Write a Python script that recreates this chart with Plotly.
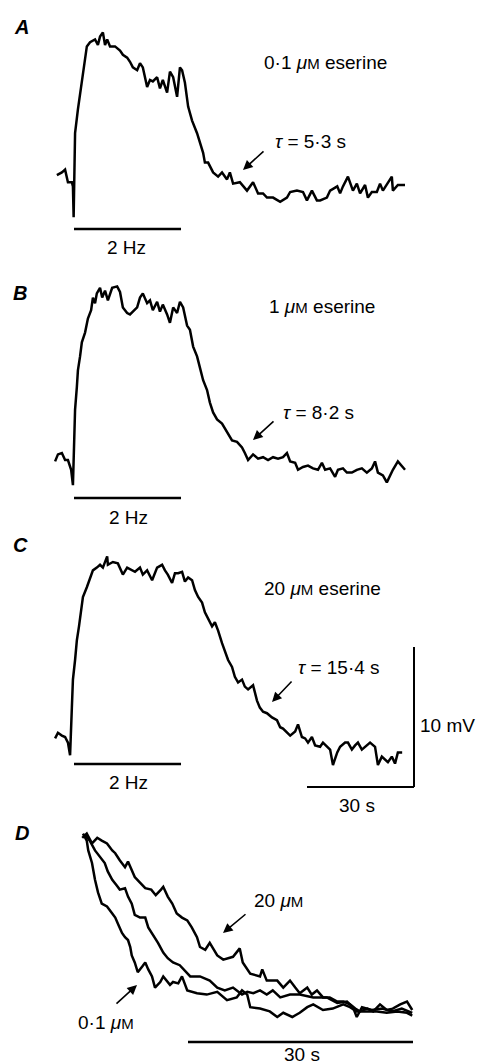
import plotly.graph_objects as go

# ---------------- data (time in s, membrane potential in mV relative to baseline) -------------
A_t = [-4.8, -3.4, -2.5, -2.0, -1.7, -0.6, -0.3, -0.1, 0.3, 1.1, 2.2, 3.1, 3.6, 4.5, 5.9, 6.7, 7.3, 8.1, 8.7, 9.3,
       10.1, 11.5, 12.9, 13.7, 14.9, 15.7, 16.5, 17.7, 18.5, 19.3, 20.5, 21.3, 22.1, 23.3, 24.1, 24.9, 26.1, 26.9,
       27.8, 28.9, 29.7, 30.3, 31.1, 32.0, 33.1, 34.5, 35.3, 36.2, 36.7, 37.6, 39.0, 40.4, 41.5, 42.9, 43.7, 44.6,
       46.5, 48.5, 50.2, 51.6, 53.0, 54.1, 55.8, 57.8, 59.7, 60.6, 62.5, 64.2, 65.3, 66.7, 68.1, 69.0, 70.9, 71.8,
       73.8, 74.6, 75.4, 76.8, 78.2, 79.3, 80.2, 81.6, 82.4, 83.5, 84.9, 85.8, 86.6, 88.0, 89.1, 89.4, 90.8, 92.8]
A_v = [0.2, 0.4, 0.6, 0.1, -0.3, -0.3, -0.6, -2.8, 3.2, 4.9, 6.8, 8.2, 9.4, 9.7, 9.9, 9.5, 10.1, 10.4, 9.5, 9.9,
       9.4, 9.4, 9.1, 8.8, 8.6, 8.3, 7.9, 7.7, 8.2, 7.9, 6.5, 7.0, 6.9, 7.2, 6.4, 7.0, 6.1, 7.6,
       7.2, 5.8, 7.9, 7.7, 6.8, 5.1, 4.1, 3.2, 2.5, 1.8, 1.1, 1.1, 0.4, 0.1, 0.4, -0.1, 0.4, -0.4,
       -0.3, -0.9, -0.3, -1.1, -1.1, -1.4, -1.4, -1.7, -1.4, -1.0, -0.9, -1.0, -1.6, -0.9, -1.6, -1.6, -1.4, -0.9,
       -0.6, -1.1, -0.6, 0.1, -0.9, -0.4, -1.1, -0.5, -1.4, -1.0, -1.0, -0.4, -0.9, -0.3, 0.1, -0.9, -0.5, -0.5]

B_t = [-5.3, -4.5, -3.4, -2.5, -1.7, -0.8, -0.3, 0.0, 0.3, 0.8, 1.1, 1.7, 2.2, 3.1, 3.9, 4.8, 5.3, 5.9, 6.4, 7.3,
       7.9, 8.7, 9.5, 10.7, 12.1, 12.9, 13.7, 14.9, 15.7, 16.5, 17.7, 18.5, 19.3, 20.5, 21.3, 22.1, 23.3, 24.1,
       24.9, 26.1, 26.9, 27.8, 28.9, 29.7, 30.6, 31.7, 32.5, 33.4, 34.5, 35.3, 36.2, 37.3, 38.1, 39.0, 40.1, 41.5,
       42.9, 44.3, 45.7, 47.1, 47.9, 48.8, 50.2, 51.6, 53.0, 54.4, 55.8, 57.2, 58.6, 59.7, 60.6, 62.0, 62.8, 64.2,
       65.6, 67.0, 68.4, 69.5, 70.4, 71.8, 73.2, 74.0, 75.4, 76.5, 77.9, 79.3, 80.7, 82.1, 83.5, 84.4, 85.2, 86.6,
       87.7, 88.6, 89.4, 90.8, 91.9, 92.8]
B_v = [-0.1, 0.4, 0.5, 0.0, 0.0, -0.7, -1.8, 0.9, 3.6, 5.2, 6.4, 7.4, 8.4, 9.1, 10.1, 10.7, 11.6, 11.2, 11.9, 12.3,
       11.6, 12.1, 11.4, 12.3, 12.4, 12.0, 10.9, 10.5, 10.4, 10.6, 10.9, 11.6, 11.9, 11.2, 11.4, 10.7, 11.3, 10.6,
       11.1, 10.4, 9.8, 10.9, 10.5, 11.3, 10.9, 9.6, 9.3, 8.1, 7.4, 6.6, 5.7, 5.0, 4.1, 3.4, 2.9, 2.6,
       2.0, 1.4, 1.3, 0.9, 0.5, 0.0, 0.4, 0.1, 0.2, 0.0, 0.2, 0.1, 0.2, 0.5, -0.1, -0.2, -0.7, -0.5,
       -0.4, -0.6, -0.7, -0.2, -0.7, -0.6, -1.2, -0.7, -0.6, -0.9, -0.9, -0.7, -0.6, -0.9, -0.6, -0.1, -0.9, -1.1,
       -1.6, -1.1, -0.7, -0.1, -0.4, -0.7]

C_t = [-5.3, -4.5, -3.4, -2.5, -1.7, -1.1, -0.6, -0.3, 0.3, 0.8, 1.4, 2.0, 2.5, 3.6, 4.5, 5.3, 6.4, 7.3, 8.1, 9.3,
       9.5, 10.9, 12.3, 13.7, 14.9, 16.3, 17.1, 18.5, 19.3, 20.5, 21.9, 23.3, 24.7, 25.5, 26.3, 27.5, 28.3, 29.2,
       30.3, 31.1, 32.0, 33.1, 33.9, 34.8, 35.9, 36.7, 37.6, 38.7, 39.5, 40.4, 41.5, 42.3, 43.2, 44.3, 45.1, 46.0,
       47.1, 47.9, 48.8, 50.2, 51.3, 52.1, 53.0, 54.1, 55.5, 56.9, 57.8, 58.6, 59.7, 60.6, 62.0, 62.8, 63.9, 64.8,
       65.6, 66.7, 67.6, 69.0, 69.8, 71.0, 71.8, 72.6, 73.8, 74.6, 76.0, 76.8, 77.9, 78.8, 79.6, 80.7, 81.6, 83.0,
       84.4, 85.2, 86.3, 87.2, 88.0, 89.1, 90.0, 90.8, 92.0]
C_v = [-0.1, 0.3, 0.1, 0.0, -0.4, -1.3, 2.1, 4.1, 5.5, 6.9, 7.9, 9.2, 10.0, 10.7, 11.4, 11.9, 12.1, 12.3, 12.1, 12.9,
       12.3, 12.5, 12.4, 11.6, 12.1, 11.9, 11.8, 12.1, 11.6, 11.9, 11.2, 12.1, 12.3, 11.9, 11.6, 11.0, 11.7, 11.7,
       11.8, 11.1, 11.4, 11.2, 10.5, 10.0, 9.6, 8.9, 8.4, 7.9, 8.2, 7.6, 6.7, 6.2, 5.5, 5.0, 4.3, 3.9,
       4.1, 3.6, 3.4, 3.7, 2.6, 2.1, 1.8, 1.7, 1.4, 1.2, 0.7, 0.6, 0.3, 0.1, 0.4, 0.9, 0.0, -0.1,
       -0.4, 0.0, -0.6, -0.7, -0.4, -0.7, -0.9, -2.0, -1.1, -0.7, -0.4, -0.4, -0.9, -0.6, -0.4, -0.9, -0.7, -0.4,
       -0.7, -2.0, -1.4, -1.6, -1.8, -1.4, -1.9, -1.1, -1.1]

# Panel D: decay phases superimposed (time from end of stimulation, amplitude scaled to same peak)
D01_t = [0.0, 0.5, 0.7, 1.2, 1.6, 2.0, 2.5, 3.2, 3.9, 4.3, 4.7, 5.2, 5.6, 6.0, 6.3, 6.5, 6.9, 7.3, 7.9, 8.3,
         8.7, 9.2, 9.6, 10.3, 10.7, 11.2, 11.6, 12.0, 12.7, 13.2, 13.9, 15.2, 16.5, 17.9, 19.2, 20.5, 21.2, 21.9,
         22.3, 23.6, 24.9, 25.9, 26.7, 27.9, 28.9, 29.9, 30.7, 32.0, 33.3, 34.7, 35.6, 36.5, 37.9, 39.2, 40.5,
         41.9, 43.2, 43.9]
D01_v = [12.6, 12.1, 11.4, 10.5, 9.3, 8.4, 7.6, 7.4, 6.9, 6.6, 6.1, 5.5, 5.2, 5.0, 4.5, 3.9, 3.4, 2.7, 3.1, 3.4,
         2.9, 2.4, 1.6, 2.0, 2.4, 2.1, 1.8, 2.0, 1.9, 2.4, 1.4, 1.2, 1.1, 1.3, 0.7, 0.9, 1.4, 1.1,
         0.2, 0.1, -0.1, -0.5, -0.2, -0.5, -0.2, 0.2, 0.4, 0.0, 0.1, 0.4, 0.2, -0.1, -0.1, -0.1, -0.2,
         -0.1, -0.2, -0.4]

D1_t = [0.3, 0.9, 1.6, 2.3, 2.9, 3.3, 3.9, 4.5, 4.9, 5.6, 6.0, 6.5, 6.9, 7.6, 8.3, 8.7, 9.2, 9.6, 10.0, 10.7,
        11.3, 12.0, 12.9, 14.3, 15.6, 16.9, 17.9, 18.9, 20.0, 21.2, 21.9, 22.7, 23.6, 24.5, 25.3, 26.3, 27.6,
        28.9, 30.7, 32.5, 33.9, 35.2, 36.0, 36.5, 37.2, 38.5, 39.9, 41.2, 42.5, 43.9]
D1_v = [12.5, 12.1, 11.4, 10.9, 10.5, 9.9, 9.3, 8.9, 8.6, 8.7, 8.1, 7.6, 6.8, 6.6, 6.6, 5.9, 5.5, 5.1, 4.8, 4.1,
        3.7, 3.4, 3.2, 2.4, 2.4, 2.1, 1.6, 1.4, 1.6, 1.1, 1.3, 1.2, 1.4, 1.1, 1.4, 0.9, 1.1,
        1.1, 0.9, 0.9, 0.5, 0.6, 0.2, -0.5, 0.2, 0.0, 0.1, -0.1, 0.1, -0.2]

D20_t = [-0.1, 0.5, 1.2, 1.9, 2.5, 3.2, 3.9, 4.3, 4.9, 5.6, 6.0, 6.5, 6.9, 7.6, 8.3, 9.1, 9.7, 10.4, 10.7, 11.3,
         11.9, 12.5, 13.2, 13.9, 14.5, 15.2, 15.6, 16.3, 16.9, 17.9, 18.7, 20.0, 20.9, 21.3, 22.3, 23.6, 23.9,
         24.5, 25.9, 26.7, 27.6, 28.3, 28.9, 29.9, 30.5, 31.2, 32.0, 32.9, 33.9, 34.7, 35.6, 36.3, 36.9, 37.9,
         38.7, 39.6, 40.5, 41.3, 42.3, 43.2, 43.9]
D20_v = [12.3, 12.6, 11.9, 12.3, 12.1, 11.9, 11.4, 11.2, 10.7, 10.2, 10.6, 10.0, 9.5, 9.1, 8.7, 8.6, 8.2, 8.6, 8.8, 8.1,
         7.6, 6.9, 6.6, 6.4, 5.9, 5.2, 4.5, 4.3, 4.8, 3.9, 3.6, 3.8, 4.4, 3.4, 2.6, 2.4, 2.9,
         2.1, 2.1, 1.6, 2.1, 1.6, 1.2, 1.6, 1.1, 1.4, 0.9, 0.9, 0.6, 0.6, 0.4, 0.1, -0.1, 0.1,
         -0.1, 0.4, 0.0, 0.1, 0.4, 0.6, 0.0]

STIM_S = 30          # 2 Hz stimulation lasted 30 s
SCALE_T = 30         # time scale bar (s)
SCALE_V = 10         # voltage scale bar (mV)
panel_labels = ["A", "B", "C", "D"]
conc_labels = ["0·1", "1", "20"]
tau_labels = ["5·3", "8·2", "15·4"]

# ---------------- layout geometry ----------------
W, H = 482, 1064
PX_S, PX_MV, T0 = 3.567, 14.0, 74          # panels A-C
BASES = [178, 460, 737]                     # baseline pixel rows of A, B, C
D_PX_S, D_T0, D_BASE = 7.5, 83, 1010

def py(p):
    return 1 - p / H

def px(p):
    return p / W

FONT = "Liberation Sans, Arial, sans-serif"
FS = 19
LW = 2.5

fig = go.Figure()
series = [(A_t, A_v, "y"), (B_t, B_v, "y2"), (C_t, C_v, "y3")]
for t, v, ya in series:
    fig.add_trace(go.Scatter(x=t, y=v, mode="lines", xaxis="x", yaxis=ya,
                             line=dict(color="black", width=LW), hoverinfo="skip", showlegend=False))
for t, v in [(D01_t, D01_v), (D1_t, D1_v), (D20_t, D20_v)]:
    fig.add_trace(go.Scatter(x=t, y=v, mode="lines", xaxis="x2", yaxis="y4",
                             line=dict(color="black", width=LW), hoverinfo="skip", showlegend=False))

ax_common = dict(visible=False, domain=[0, 1], fixedrange=True)
layout = dict(
    width=W, height=H, margin=dict(l=0, r=0, t=0, b=0),
    paper_bgcolor="white", plot_bgcolor="white", showlegend=False,
    xaxis=dict(range=[-T0 / PX_S, (W - T0) / PX_S], **ax_common),
    xaxis2=dict(range=[-D_T0 / D_PX_S, (W - D_T0) / D_PX_S], overlaying="x", **ax_common),
    yaxis=dict(range=[(BASES[0] - H) / PX_MV, BASES[0] / PX_MV], **ax_common),
    yaxis2=dict(range=[(BASES[1] - H) / PX_MV, BASES[1] / PX_MV], overlaying="y", **ax_common),
    yaxis3=dict(range=[(BASES[2] - H) / PX_MV, BASES[2] / PX_MV], overlaying="y", **ax_common),
    yaxis4=dict(range=[(D_BASE - H) / PX_MV, D_BASE / PX_MV], overlaying="y", anchor="x2", **ax_common),
)
fig.update_layout(**layout)

shapes = []
# stimulation bars
for row in [229, 498, 764]:
    shapes.append(dict(type="line", xref="x", yref="paper", x0=0, x1=STIM_S, y0=py(row), y1=py(row),
                       line=dict(color="black", width=2.5)))
# calibration bars in C
t_bar0 = (307 - T0) / PX_S
v_bar0 = (BASES[2] - 787) / PX_MV
shapes.append(dict(type="line", xref="x", yref="y3", x0=t_bar0, x1=t_bar0 + SCALE_T, y0=v_bar0, y1=v_bar0,
                   line=dict(color="black", width=2)))
shapes.append(dict(type="line", xref="x", yref="y3", x0=t_bar0 + SCALE_T, x1=t_bar0 + SCALE_T,
                   y0=v_bar0, y1=v_bar0 + SCALE_V, line=dict(color="black", width=2)))
# time bar in D
shapes.append(dict(type="line", xref="x2", yref="paper", x0=14, x1=14 + SCALE_T, y0=py(1042), y1=py(1042),
                   line=dict(color="black", width=2.5)))
fig.update_layout(shapes=shapes)

MU = "<i>μ</i><span style='font-size:15px'>M</span>"
ann = []

def txt(x, y, s, size=FS, xanchor="center"):
    ann.append(dict(x=px(x), y=py(y), xref="paper", yref="paper", text=s, showarrow=False,
                    xanchor=xanchor, yanchor="middle", font=dict(family=FONT, size=size, color="black")))

def arrow(hx, hy, tx, ty):
    ann.append(dict(x=px(hx), y=py(hy), xref="paper", yref="paper", text="", showarrow=True,
                    ax=tx - hx, ay=ty - hy, arrowhead=2, arrowsize=1.2, arrowwidth=1.6, arrowcolor="black"))

# panel letters
for lab, (x, y) in zip(panel_labels, [(21, 27), (20, 293), (20, 545), (22, 833)]):
    txt(x, y, "<b><i>%s</i></b>" % lab, size=20)

# concentrations
for c, (x, y) in zip(conc_labels, [(325, 62), (322, 307), (322, 588)]):
    txt(x, y, "%s %s eserine" % (c, MU))
# time constants
for tl, (x, y) in zip(tau_labels, [(310, 141), (318, 412), (339, 667)]):
    txt(x, y, "<i>τ</i> = %s s" % tl)
arrow(243, 170, 265, 150)
arrow(253, 440, 275, 420)
arrow(272, 702, 293, 680)
# stimulus labels
for x, y in [(126, 248), (128, 517), (128, 782)]:
    txt(x, y, "2 Hz")
# calibration labels
txt(447, 725, "%d mV" % SCALE_V)
txt(357, 805, "%d s" % SCALE_T)
# panel D labels
txt(278, 900, "20 " + MU)
arrow(223, 933, 247, 913)
txt(106, 1022, "0·1 " + MU)
arrow(137, 985, 115, 1005)
txt(302, 1054, "%d s" % SCALE_T)

fig.update_layout(annotations=ann)
fig.write_html("out.html")
